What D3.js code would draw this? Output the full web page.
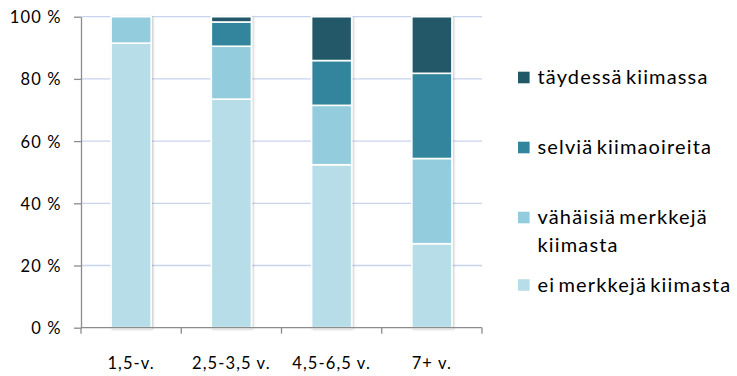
<!DOCTYPE html>
<html>
<head>
<meta charset="utf-8">
<script src="https://cdn.jsdelivr.net/npm/d3@7"></script>
<style>
  html, body { margin: 0; padding: 0; background: #fff; }
  svg { display: block; font-family: Lato, "Open Sans", sans-serif; }
</style>
</head>
<body>
<svg id="chart" width="737" height="376"></svg>
<script>
// Age groups along the x axis
const categories = ["1,5-v.", "2,5-3,5 v.", "4,5-6,5 v.", "7+ v."];

// Share of animals (%) per oestrus level, bottom to top of each stack
const eiMerkkeja     = [91.5, 73.5, 52.4, 27.0];
const vahaisia       = [8.5, 17.0, 19.1, 27.4];
const selvia         = [0.0, 7.8, 14.4, 27.4];
const taydessa       = [0.0, 1.7, 14.1, 18.2];

const seriesNames = ["ei merkkejä kiimasta", "vähäisiä merkkejä kiimasta", "selviä kiimaoireita", "täydessä kiimassa"];
const seriesValues = [eiMerkkeja, vahaisia, selvia, taydessa];
const seriesColors = ["#b7dee8", "#93cddd", "#31859c", "#215968"];

const yTicks = [0, 20, 40, 60, 80, 100];

const svg = d3.select("#chart");
const margin = { left: 81, right: 255, top: 16.7, bottom: 48.3 };
const width = 737 - margin.left - margin.right;
const height = 376 - margin.top - margin.bottom;

const defs = svg.append("defs");
const shadow = defs.append("filter").attr("id", "barShadow")
  .attr("x", "-20%").attr("y", "-5%").attr("width", "140%").attr("height", "110%");
shadow.append("feDropShadow").attr("dx", 1.2).attr("dy", 0.8)
  .attr("stdDeviation", 1.2).attr("flood-color", "#000").attr("flood-opacity", 0.22);

const g = svg.append("g").attr("transform", `translate(${margin.left},${margin.top})`);

const x = d3.scaleBand().domain(categories).range([0, width]).paddingInner(0.6).paddingOuter(0.3);
const xBound = d3.scaleBand().domain(categories).range([0, width]).padding(0);
const y = d3.scaleLinear().domain([0, 100]).range([height, 0]);

// Gridlines
g.append("g").selectAll("line").data(yTicks.filter(d => d > 0)).join("line")
  .attr("x1", 0).attr("x2", width)
  .attr("y1", d => y(d)).attr("y2", d => y(d))
  .attr("stroke", "#c8d4ee").attr("stroke-width", 1.3);

// Stacked data
const table = categories.map((c, i) => {
  const row = { cat: c };
  seriesNames.forEach((s, j) => { row[s] = seriesValues[j][i]; });
  return row;
});
const stacked = d3.stack().keys(seriesNames)(table);

const barsG = g.append("g").attr("filter", "url(#barShadow)");
stacked.forEach((layer, j) => {
  barsG.append("g").selectAll("rect")
    .data(layer.filter(d => d[1] - d[0] > 0))
    .join("rect")
    .attr("x", d => x(d.data.cat))
    .attr("width", x.bandwidth())
    .attr("y", d => y(d[1]))
    .attr("height", d => y(d[0]) - y(d[1]))
    .attr("fill", seriesColors[j])
    .attr("stroke", "#ffffff")
    .attr("stroke-width", 1.6);
});

// Y axis
const yAxis = g.append("g")
  .call(d3.axisLeft(y).tickValues(yTicks).tickFormat(d => d + " %").tickSize(7).tickSizeOuter(0));
yAxis.select(".domain").attr("stroke", "#8c8c8c").attr("stroke-width", 1.3);
yAxis.selectAll(".tick line").attr("stroke", "#8c8c8c").attr("stroke-width", 1.3);
yAxis.selectAll(".tick text").attr("x", -19.5).attr("dy", "0.36em").attr("font-size", 16.5)
  .attr("letter-spacing", 1.1)
  .attr("font-family", "Lato, sans-serif").attr("fill", "#000");

// X axis with ticks at category boundaries
const xAxisG = g.append("g").attr("transform", `translate(0,${height})`);
xAxisG.append("line").attr("x1", 0).attr("x2", width).attr("y1", 0).attr("y2", 0)
  .attr("stroke", "#8c8c8c").attr("stroke-width", 1.3);
const bounds = categories.map(c => xBound(c)).concat([width]);
xAxisG.selectAll("line.tk").data(bounds).join("line").attr("class", "tk")
  .attr("x1", d => d).attr("x2", d => d).attr("y1", 0).attr("y2", 6)
  .attr("stroke", "#8c8c8c").attr("stroke-width", 1.3);
xAxisG.selectAll("text").data(categories).join("text")
  .attr("x", d => xBound(d) + xBound.bandwidth() / 2)
  .attr("y", 41.5)
  .attr("text-anchor", "middle")
  .attr("font-size", 16.5)
  .attr("letter-spacing", 1.1)
  .text(d => d);

// Legend, top entry is the top of the stack
const legendItems = [
  { name: "täydessä kiimassa", lines: ["täydessä kiimassa"], color: seriesColors[3], cy: 77.5 },
  { name: "selviä kiimaoireita", lines: ["selviä kiimaoireita"], color: seriesColors[2], cy: 147.5 },
  { name: "vähäisiä merkkejä kiimasta", lines: ["vähäisiä merkkejä", "kiimasta"], color: seriesColors[1], cy: 217.5 },
  { name: "ei merkkejä kiimasta", lines: ["ei merkkejä kiimasta"], color: seriesColors[0], cy: 285 }
];
const legend = svg.append("g");
const li = legend.selectAll("g").data(legendItems).join("g")
  .attr("transform", d => `translate(518,${d.cy})`);
li.append("rect").attr("x", 0).attr("y", -5.8).attr("width", 11.6).attr("height", 11.6)
  .attr("fill", d => d.color);
li.append("text").attr("x", 19.5).attr("y", 6.8)
  .attr("font-size", 20)
  .attr("letter-spacing", 1.15)
  .attr("word-spacing", -3)
  .selectAll("tspan").data(d => d.lines).join("tspan")
  .attr("x", 19.5).attr("dy", (d, i) => i === 0 ? 0 : 28)
  .text(d => d);
</script>
</body>
</html>
